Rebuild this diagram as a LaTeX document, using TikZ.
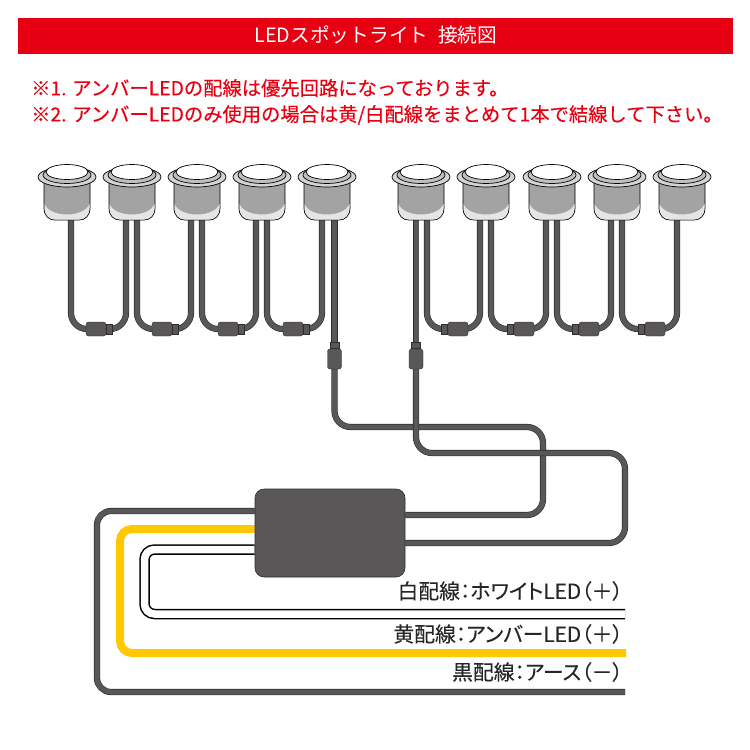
\documentclass[tikz,border=0pt]{standalone}
\usepackage{fontspec}
\setmainfont{Noto Sans CJK JP}
\newfontfamily\notefont[FakeBold=0.3]{Noto Sans CJK JP}
\newfontfamily\labelfont[RawFeature=+palt,FakeBold=0.15]{Noto Sans CJK JP}
\usepackage{xcolor}
\definecolor{barRed}{HTML}{E60012}
\definecolor{wireDark}{HTML}{595757}
\definecolor{wireEdge}{HTML}{2F2D2D}
\definecolor{wireYellow}{HTML}{FFC800}
\definecolor{lampGray}{HTML}{A3A3A3}
\definecolor{rimGray}{HTML}{D4D4D4}
\usepackage{tikz}
\usetikzlibrary{positioning,backgrounds}
\tikzset{
    wire/.style={
        draw=wireEdge,
        double=wireDark,
        double distance=5pt,
        line width=0.6pt,
        rounded corners=16pt
    },
    joint/.style={
        draw=wireEdge,
        fill=wireDark,
        rectangle,
        rounded corners=2.5pt,
        inner sep=0pt,
        line width=0.4pt
    },
    neck/.style={
        draw=wireEdge,
        fill=wireDark,
        rectangle,
        inner sep=0pt,
        line width=0.4pt
    },
    redtext/.style={
        font=\notefont\fontsize{19.3}{21}\selectfont,
        text=barRed,
        anchor=west,
        inner sep=0pt
    },
    linelabel/.style={
        font=\labelfont\fontsize{20.8}{23}\selectfont,
        text=black!85,
        anchor=east,
        inner sep=0pt
    }
}

\begin{document}
\begin{tikzpicture}[x=1pt,y=-1pt]
    \useasboundingbox (0,0) rectangle (750,750);

    % Title bar and notes
    \node[fill=barRed, minimum width=715pt, minimum height=36pt, inner sep=0pt] (titlebar) at (375.5,36) {};
    \node[text=white, font=\fontsize{19.7}{22}\selectfont, inner sep=0pt] (titletext) at (376,35) {LEDスポットライト\hspace{0.5em}接続図};
    \node[redtext] (noteone) at (31,88) {※1. アンバーLEDの配線は優先回路になっております。};
    \node[redtext] (notetwo) at (31,115) {※2. アンバーLEDのみ使用の場合は黄/白配線をまとめて1本で結線して下さい。};

    % Control box and its outgoing lines
    \node[draw=wireEdge, fill=wireDark, rounded corners=9pt, minimum width=150pt, minimum height=88pt, inner sep=0pt, line width=0.6pt] (ctrlbox) at (330,533) {};
    \coordinate (blackend) at (625,692);
    \coordinate (yellowend) at (626,653);
    \coordinate (whiteend) at (625,614);
    \begin{scope}[on background layer]
        \draw[wire, rounded corners=14pt] (ctrlbox.west |- 0,511) -- (97,511) -- (97,692) -- (blackend);
        \draw[wireYellow, line width=8pt, rounded corners=12pt] (ctrlbox.west |- 0,529) -- (120,529) -- (120,653) -- (yellowend);
        \draw[black, double=white, double distance=7.5pt, line width=1.5pt, rounded corners=10pt] (ctrlbox.west |- 0,549.5) -- (144.5,549.5) -- (144.5,614) -- (whiteend);
    \end{scope}

    % Lamps
    \foreach \name/\x in {a/67,b/132,c/197,d/262,e/327,f/421,g/486,h/552,i/617,j/682} {
        \draw[fill=lampGray, line width=0.7pt] (\x-23,178) -- (\x-23,208) .. controls (\x-23,216) and (\x-18,220) .. (\x-12,220) -- (\x+12,220) .. controls (\x+18,220) and (\x+23,216) .. (\x+23,208) -- (\x+23,178) -- cycle;
        \fill[white!90!black] (\x-22.5,204) .. controls (\x-17,218) and (\x+17,218) .. (\x+22.5,204) -- (\x+22.5,208) .. controls (\x+22.5,215) and (\x+18,219.5) .. (\x+12,219.5) -- (\x-12,219.5) .. controls (\x-18,219.5) and (\x-22.5,215) .. (\x-22.5,208) -- cycle;
        \draw[fill=rimGray, line width=0.7pt] (\x,177) ellipse (29pt and 10pt);
        \draw[fill=lampGray!70, line width=0.7pt] (\x,175) ellipse (24pt and 8.5pt);
        \draw[fill=white, line width=0.7pt] (\x,172) ellipse (21pt and 7.5pt);
    }

    % Lamp to lamp connectors, neck on the inner side
    \foreach \name/\x in {ab/96,bc/162,cd/228,de/293} {
        \node[joint, minimum width=20pt, minimum height=14pt] (\name) at (\x,329) {};
        \node[neck, minimum width=6pt, minimum height=10pt, right=0pt of \name] (\name n) {};
    }
    \foreach \name/\x in {fg/458,gh/524,hi/589,ij/655} {
        \node[joint, minimum width=20pt, minimum height=14pt] (\name) at (\x,329) {};
        \node[neck, minimum width=6pt, minimum height=10pt, left=0pt of \name] (\name n) {};
    }
    \begin{scope}[on background layer]
        \draw[wire] (71,220) -- (71,329) -- (ab.west);
        \draw[wire] (126,220) -- (126,329) -- (abn.east);
        \draw[wire] (137,220) -- (137,329) -- (bc.west);
        \draw[wire] (191,220) -- (191,329) -- (bcn.east);
        \draw[wire] (202,220) -- (202,329) -- (cd.west);
        \draw[wire] (256,220) -- (256,329) -- (cdn.east);
        \draw[wire] (267,220) -- (267,329) -- (de.west);
        \draw[wire] (322,220) -- (322,329) -- (den.east);
        \draw[wire] (427,220) -- (427,329) -- (fgn.west);
        \draw[wire] (480,220) -- (480,329) -- (fg.east);
        \draw[wire] (491,220) -- (491,329) -- (ghn.west);
        \draw[wire] (546,220) -- (546,329) -- (gh.east);
        \draw[wire] (557,220) -- (557,329) -- (hin.west);
        \draw[wire] (611,220) -- (611,329) -- (hi.east);
        \draw[wire] (622,220) -- (622,329) -- (ijn.west);
        \draw[wire] (677,220) -- (677,329) -- (ij.east);
    \end{scope}

    % Feed lines to the control box
    \node[joint, minimum width=14pt, minimum height=20pt] (feedone) at (334.5,359) {};
    \node[neck, minimum width=9pt, minimum height=6pt, above=0pt of feedone] (feedonen) {};
    \node[joint, minimum width=14pt, minimum height=20pt] (feedtwo) at (416,359) {};
    \node[neck, minimum width=9pt, minimum height=6pt, above=0pt of feedtwo] (feedtwon) {};
    \begin{scope}[on background layer]
        \draw[wire] (334.5,220) -- (feedonen.north);
        \draw[wire] (416,220) -- (feedtwon.north);
        \draw[wire] (feedone.south) -- (334.5,427) -- (543,427) -- (543,515) -- (ctrlbox.east |- 0,515);
        \draw[wire] (feedtwo.south) -- (416,453) -- (625,453) -- (625,543) -- (ctrlbox.east |- 0,543);
    \end{scope}

    % Line labels
    \node[linelabel] (whitelabel) at (623,591) {白配線：ホワイトLED（＋）};
    \node[linelabel] (yellowlabel) at (623,634) {黄配線：アンバーLED（＋）};
    \node[linelabel] (blacklabel) at (623,672) {黒配線：アース（－）};
\end{tikzpicture}
\end{document}
